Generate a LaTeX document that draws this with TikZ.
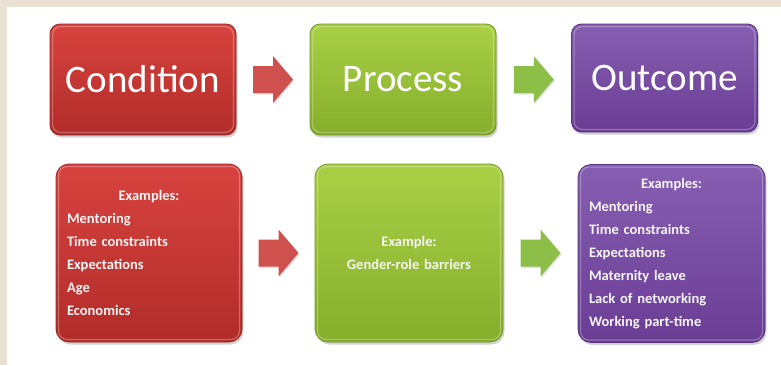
\documentclass[tikz,border=0pt]{standalone}
\usepackage{fontspec}
\setmainfont{Carlito}
\usetikzlibrary{shadows,calc}
\definecolor{bgbeige}{HTML}{E9E2D2}
\definecolor{redtop}{HTML}{D8433F}
\definecolor{redbot}{HTML}{B12C29}
\definecolor{redline}{HTML}{9A2523}
\definecolor{grntop}{HTML}{A9D045}
\definecolor{grnbot}{HTML}{85AE2C}
\definecolor{grnline}{HTML}{729A22}
\definecolor{purtop}{HTML}{875FB2}
\definecolor{purbot}{HTML}{693D94}
\definecolor{purline}{HTML}{583281}
\definecolor{arrred}{HTML}{CE514D}
\definecolor{arrgrn}{HTML}{8DBF48}
\tikzset{
  box/.style={rounded corners=10pt, line width=0.8pt,
    drop shadow={opacity=0.35, shadow xshift=1.5pt, shadow yshift=-2.5pt},
    inner sep=0pt, text=white},
  redbox/.style={box, top color=redtop, bottom color=redbot, draw=redline},
  grnbox/.style={box, top color=grntop, bottom color=grnbot, draw=grnline},
  purbox/.style={box, top color=purtop, bottom color=purbot, draw=purline},
  topbox/.style={minimum width=186pt, minimum height=111pt,
    font=\fontsize{39}{44}\selectfont},
  lowbox/.style={minimum height=178pt, rounded corners=13pt,
    text width=164pt, inner xsep=11pt, align=left,
    text=white!92!gray, font=\fontsize{14.5}{23}\selectfont\bfseries},
  bevel/.style={white, opacity=0.28, line width=1.2pt, rounded corners=8pt},
}
\newcommand{\ctr}[1]{\makebox[\linewidth][c]{#1}}
\begin{document}
\begin{tikzpicture}[x=1pt,y=-1pt]
\fill[bgbeige] (0,0) rectangle (781,365);
\fill[white] (7,7) rectangle (781,365);
\useasboundingbox (0,0) rectangle (781,365);

\node[redbox, topbox] (c1) at (143,79.5) {Condition};
\node[grnbox, topbox] (p1) at (403,79.5) {Process};
\node[purbox, topbox, minimum height=108pt] (o1) at (664.5,78) {Outcome};

\node[redbox, lowbox] (c2) at (149,253) {\ctr{Examples:}\\Mentoring\\Time constraints\\Expectations\\Age\\Economics};
\node[grnbox, lowbox, text width=166pt] (p2) at (409,253) {\ctr{Example:}\\\ctr{Gender-role barriers}};
\node[purbox, lowbox, text width=165pt] (o2) at (671.5,253.5) {\ctr{Examples:}\\Mentoring\\Time constraints\\Expectations\\Maternity leave\\Lack of networking\\Working part-time};

\foreach \n in {c1,p1,o1,c2,p2,o2}{
  \draw[bevel] ([shift={(3,3)}]\n.north west) rectangle ([shift={(-3,-3)}]\n.south east);
}

\path (c1.east) -- (p1.west) coordinate[midway] (a1);
\path (p1.east) -- (o1.west |- p1.east) coordinate[midway] (a2);
\path (c2.east) -- (p2.west) coordinate[midway] (a3);
\path (p2.east) -- (o2.west |- p2.east) coordinate[midway] (a4);

\foreach \a/\c in {a1/arrred, a2/arrgrn, a3/arrred, a4/arrgrn}{
  \fill[\c, drop shadow={opacity=0.25, shadow xshift=1pt, shadow yshift=-1.5pt}]
    ([shift={(-20,-13.5)}]\a) -- ([shift={(0,-13.5)}]\a) -- ([shift={(0,-23.5)}]\a)
    -- ([shift={(20,0)}]\a) -- ([shift={(0,23.5)}]\a) -- ([shift={(0,13.5)}]\a)
    -- ([shift={(-20,13.5)}]\a) -- cycle;
}
\end{tikzpicture}
\end{document}
